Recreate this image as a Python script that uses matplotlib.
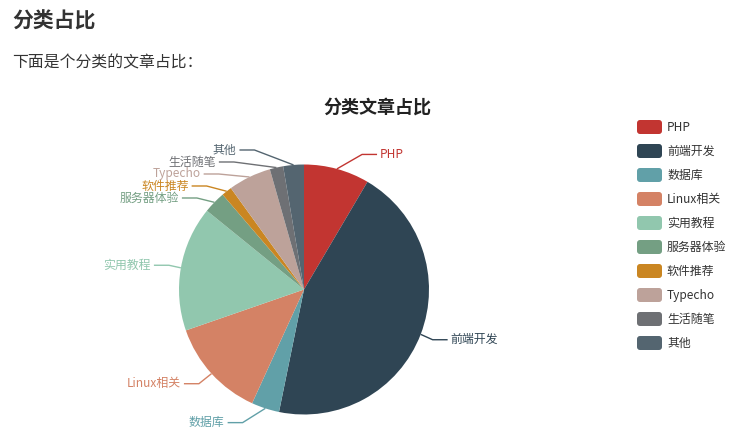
import math
import matplotlib
matplotlib.use("Agg")
import matplotlib.pyplot as plt
from matplotlib.patches import FancyBboxPatch

plt.rcParams['font.family'] = ['Noto Sans CJK SC', 'DejaVu Sans']

# ---- data ----
categories = ['PHP', '前端开发', '数据库', 'Linux相关', '实用教程', '服务器体验',
              '软件推荐', 'Typecho', '生活随笔', '其他']
values = [12.7, 67, 5.4, 19.3, 24.2, 4.3, 2, 8.3, 2.6, 4]
colors = ['#c23531', '#2f4554', '#61a0a8', '#d48265', '#91c7ae', '#749f83',
          '#ca8622', '#bda29a', '#6e7074', '#546570']
page_title = '分类占比'
page_text = '下面是个分类的文章占比：'
chart_title = '分类文章占比'

W, H = 745, 448
fig = plt.figure(figsize=(W / 100, H / 100), dpi=100)
fig.patch.set_facecolor('white')
ax = fig.add_axes([0, 0, 1, 1])

# pixel-space layout (y downward), converted to data y (upward)
cx, cy, R = 304.0, 289.5, 125.0
L1, L2, LH = 15.0, 15.0, 12.0


def Y(py):
    return H - py


ax.pie(values, colors=colors, startangle=90, counterclock=False,
       center=(cx, Y(cy)), radius=R, wedgeprops=dict(linewidth=0))
ax.set_xlim(0, W)
ax.set_ylim(0, H)
ax.set_aspect('equal')
ax.axis('off')

# ---- label layout (echarts-like) ----
total = float(sum(values))
acc = 0.0
labels = []
for i, v in enumerate(values):
    mid = (acc + v / 2.0) / total * 2 * math.pi
    acc += v
    dx, dy = math.sin(mid), -math.cos(mid)
    x1, y1 = cx + R * dx, cy + R * dy
    y3 = cy + (R + L1) * dy
    labels.append(dict(i=i, dx=dx, x1=x1, y1=y1, y=y3,
                       side=1 if dx >= 0 else -1))

for side in (1, -1):
    lst = sorted([l for l in labels if l['side'] == side], key=lambda l: l['y'])
    last = -1e9
    for l in lst:
        if l['y'] < last + LH:
            l['y'] = last + LH
        last = l['y']
    up = [l for l in lst if l['y'] < cy]
    down = [l for l in lst if l['y'] >= cy]
    RR = R + L1 + L2
    lastdx = 0.0
    for l in up:
        dyy = abs(l['y'] - cy)
        ddx = math.sqrt(max(RR * RR - dyy * dyy, 0))
        if ddx <= lastdx:
            ddx = lastdx + 10
        l['x'] = cx + ddx * side
        lastdx = ddx
    lastdx = 1e9
    for l in down:
        dyy = abs(l['y'] - cy)
        ddx = math.sqrt(max(RR * RR - dyy * dyy, 0))
        if ddx >= lastdx:
            ddx = lastdx - 10
        l['x'] = cx + ddx * side
        lastdx = ddx

for l in labels:
    s = l['side']
    x3 = l['x'] - 3 * s
    x2 = x3 - L2 * s
    c = colors[l['i']]
    ax.plot([l['x1'], x2, x3], [Y(l['y1']), Y(l['y']), Y(l['y'])],
            color=c, lw=1, solid_capstyle='butt')
    ax.text(l['x'], Y(l['y']), categories[l['i']], color=c, fontsize=8.6,
            ha='left' if s > 0 else 'right', va='center')

# ---- titles ----
ax.text(12, Y(21), page_title, fontsize=15, fontweight='bold', color='#333333',
        ha='left', va='center')
ax.text(12, Y(63), page_text, fontsize=11.4, color='#333333',
        ha='left', va='center')
ax.text(377.5, Y(107), chart_title, fontsize=13, fontweight='bold',
        color='#222222', ha='center', va='center')

# ---- legend ----
lx, ly0, lstep = 637, 127, 24
for i, (name, c) in enumerate(zip(categories, colors)):
    yy = ly0 + i * lstep
    ax.add_patch(FancyBboxPatch((lx, Y(yy + 7)), 25, 14,
                                boxstyle='round,pad=0,rounding_size=3',
                                facecolor=c, edgecolor='none'))
    ax.text(lx + 30, Y(yy), name, fontsize=8.6, color='#333333',
            ha='left', va='center')

fig.savefig('out.png', dpi=100, facecolor='white')
